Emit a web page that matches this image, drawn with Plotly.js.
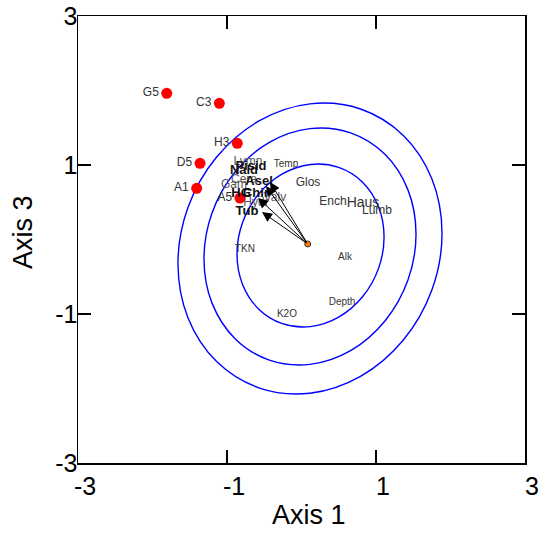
<!DOCTYPE html>
<html><head><meta charset="utf-8">
<script src="https://cdn.plot.ly/plotly-3.0.1.min.js"></script>
<style>html,body{margin:0;padding:0;background:#fff}#chart{width:541px;height:533px}</style>
</head><body><div id="chart"></div>
<script>
// Sites (red points)
const siteNames = ["G5","C3","H3","D5","A1","A5"];
const siteX = [-1.809,-1.103,-0.862,-1.362,-1.407,-0.826];
const siteY = [1.962,1.828,1.291,1.023,0.687,0.557];

// Centroid
const centerX = [0.083];
const centerY = [-0.060];

// Arrow tips (species vectors)
const arrowX = [-0.423,-0.477,-0.584,-0.530];
const arrowY = [0.772,0.718,0.557,0.369];

// Contour ellipses (16 points each, closed)
const outerX = [1.886,1.751,1.367,0.792,0.114,-0.564,-1.139,-1.523,-1.658,-1.523,-1.139,-0.564,0.114,0.792,1.367,1.751,1.886];
const outerY = [0.084,0.812,1.397,1.752,1.821,1.595,1.107,0.433,-0.326,-1.054,-1.639,-1.994,-2.063,-1.837,-1.349,-0.675,0.084];
const midX = [1.537,1.429,1.120,0.659,0.114,-0.431,-0.892,-1.201,-1.309,-1.201,-0.892,-0.431,0.114,0.659,1.120,1.429,1.537];
const midY = [0.073,0.666,1.143,1.431,1.488,1.304,0.906,0.357,-0.261,-0.854,-1.331,-1.619,-1.676,-1.492,-1.094,-0.545,0.073];
const innerX = [1.108,1.033,0.819,0.499,0.121,-0.257,-0.577,-0.791,-0.866,-0.791,-0.577,-0.257,0.121,0.499,0.819,1.033,1.108];
const innerY = [0.034,0.442,0.770,0.968,1.007,0.880,0.607,0.229,-0.196,-0.604,-0.932,-1.130,-1.169,-1.042,-0.769,-0.391,0.034];

// Plain labels
const plainText = ["Temp","Glos","Ench","Haus","Lumb","TKN","Alk","Depth","K2O"];
const plainX = [-0.208,0.087,0.423,0.826,1.013,-0.758,0.584,0.544,-0.195];
const plainY = [1.013,0.758,0.503,0.477,0.383,-0.128,-0.235,-0.852,-1.000];
const plainSize = [10,12,12,14,12,10,10,10,10];

// Grey overlapping species labels
const greyText = ["Lymn","Cera","Gam","Hydr","Valv"];
const greyX = [-0.718,-0.772,-0.906,-0.611,-0.356];
const greyY = [1.040,0.799,0.732,0.490,0.557];

// Bold species labels
const boldText = ["Pisid","Nald","Asel","HG","Chir","Tub"];
const boldX = [-0.678,-0.772,-0.570,-0.812,-0.611,-0.732];
const boldY = [0.973,0.919,0.772,0.611,0.611,0.369];

// Axis ticks
const tickVals = [-3,-1,1,3];
const tickText = ["-3","-1","1","3"];

const FONT = "Liberation Sans, Arial, sans-serif";
const ell = (x,y) => ({x:x,y:y,mode:'lines',type:'scatter',line:{color:'#0000ff',width:1.4,shape:'spline',smoothing:1},hoverinfo:'skip',showlegend:false});

const traces = [
  ell(outerX,outerY), ell(midX,midY), ell(innerX,innerY),
  {x:plainX,y:plainY,text:plainText,mode:'text',type:'scatter',textfont:{family:FONT,size:plainSize,color:'#333'},showlegend:false},
  {x:greyX,y:greyY,text:greyText,mode:'text',type:'scatter',textfont:{family:FONT,size:12,color:'#555'},showlegend:false},
  {x:siteX,y:siteY,text:siteNames,mode:'markers+text',type:'scatter',textposition:'middle left',
   marker:{color:'#ff0000',size:11},textfont:{family:FONT,size:12,color:'#333'},showlegend:false},
  {x:boldX,y:boldY,text:boldText,mode:'text',type:'scatter',textfont:{family:FONT,size:13,color:'#111',weight:'bold'},showlegend:false},
  {x:centerX,y:centerY,mode:'markers',type:'scatter',marker:{color:'#ff7f00',size:6,line:{color:'#333',width:1}},showlegend:false}
];

const annotations = arrowX.map((ax,i)=>({x:ax,y:arrowY[i],ax:centerX[0],ay:centerY[0],xref:'x',yref:'y',axref:'x',ayref:'y',
  showarrow:true,arrowhead:2,arrowsize:2,arrowwidth:1,arrowcolor:'#000',text:''}));
annotations.push({text:'Axis 1',xref:'paper',yref:'paper',x:(309-78)/447,y:-(532-463)/447,xanchor:'center',yanchor:'bottom',showarrow:false,
  font:{family:FONT,size:27,color:'#000'}});
annotations.push({text:'Axis 3',xref:'paper',yref:'paper',x:-(78-23)/447,y:(463-232)/447,xanchor:'center',yanchor:'middle',showarrow:false,textangle:-90,
  font:{family:FONT,size:27,color:'#000'}});

const axisCommon = {range:[-3,3],tickvals:tickVals,ticktext:tickText,ticks:'inside',ticklen:13,tickwidth:1.5,tickcolor:'#000',
  showline:true,linecolor:'#000',linewidth:1.5,mirror:'allticks',showgrid:false,zeroline:false,
  tickfont:{family:FONT,size:25,color:'#000'}};

const layout = {
  width:541,height:533,margin:{l:78,r:16,t:16,b:70},
  paper_bgcolor:'#fff',plot_bgcolor:'#fff',showlegend:false,
  xaxis:Object.assign({},axisCommon,{ticklabelshift:7}),
  yaxis:Object.assign({},axisCommon,{ticklabelstandoff:-6}),
  annotations:annotations
};
Plotly.newPlot('chart',traces,layout,{staticPlot:true,displayModeBar:false});
</script></body></html>
